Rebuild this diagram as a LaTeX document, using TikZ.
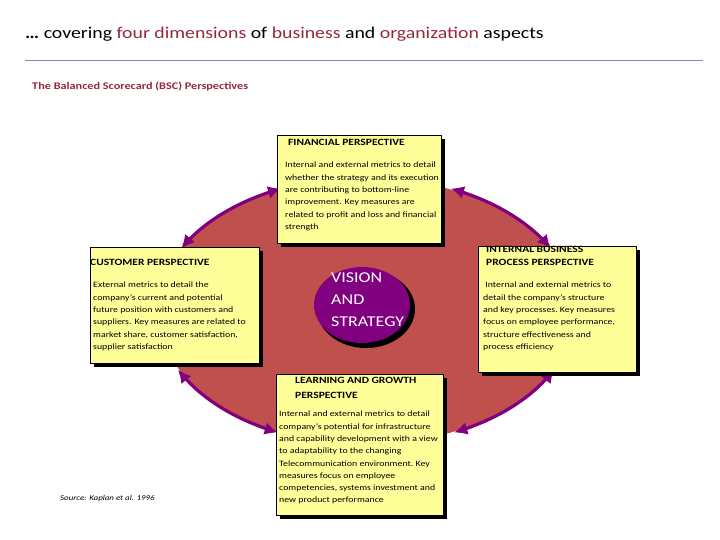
\documentclass[tikz,border=0pt]{standalone}
\usepackage{fontspec}
\setmainfont[FakeStretch=1.2]{Carlito}
\usetikzlibrary{arrows.meta}
\definecolor{mar}{RGB}{150,40,60}
\definecolor{purp}{RGB}{128,0,128}
\definecolor{ell}{RGB}{192,80,77}
\definecolor{boxy}{RGB}{255,255,153}
\definecolor{rule}{RGB}{120,140,170}
\tikzset{
 pbox/.style={draw=black,fill=boxy,line width=0.6pt,inner sep=0pt},
 shad/.style={fill=black},
 btxt/.style={anchor=north west,align=left,font=\fontsize{8.2}{12.3}\selectfont,inner sep=0pt},
 htxt/.style={anchor=north west,align=left,font=\fontsize{9.6}{14}\selectfont\bfseries,inner sep=0pt},
 arc/.style={purp,line width=3.2pt,{Latex[length=13pt,width=13pt]}-{Latex[length=13pt,width=13pt]}}
}
\newcommand{\pbx}[5]{% name, x1,y1,x2,y2
 \fill[shad] (#2+4,#3+4) rectangle (#4+4,#5+4);
 \draw[pbox] (#2,#3) rectangle (#4,#5);
 \coordinate (#1) at (#2,#3);}
\begin{document}
\begin{tikzpicture}[x=1pt,y=-1pt]
\useasboundingbox (0,0) rectangle (720,540);
\node[anchor=west,font=\fontsize{16.5}{18}\selectfont,inner sep=0pt] (title) at (25,34)
 {\textbf{…} covering \textcolor{mar}{four dimensions} of \textcolor{mar}{business} and \textcolor{mar}{organization} aspects};
\draw[rule,line width=0.6pt] (25,60) -- (703,60);
\node[anchor=west,font=\fontsize{10.2}{12}\selectfont\bfseries,text=mar,inner sep=0pt] (sub) at (32,87) {The Balanced Scorecard (BSC) Perspectives};
% big ellipse
\fill[ell] (366,311) ellipse [x radius=208, y radius=133];
% arcs
\draw[arc] plot[domain=-114:-152,samples=30] ({366+209*cos(\x)},{311+134*sin(\x)});
\draw[arc] plot[domain=-66:-28,samples=30] ({366+209*cos(\x)},{311+134*sin(\x)});
\draw[arc] plot[domain=154:115,samples=30] ({366+209*cos(\x)},{311+134*sin(\x)});
\draw[arc] plot[domain=26:65,samples=30] ({366+209*cos(\x)},{311+134*sin(\x)});
% boxes
\pbx{fin}{277}{135}{441}{243}
\node[htxt] (finh) at ([shift={(11,4)}]fin) {FINANCIAL PERSPECTIVE};
\node[btxt] (fint) at ([shift={(8,27)}]fin) {Internal and external metrics to detail\\whether the strategy and its execution\\are contributing to bottom-line\\improvement. Key measures are\\related to profit and loss and financial\\strength};
\pbx{cus}{90}{247}{259}{363}
\node[htxt] (cush) at ([shift={(0,12)}]cus) {CUSTOMER PERSPECTIVE};
\node[btxt] (cust) at ([shift={(3,35)}]cus) {External metrics to detail the\\company's current and potential\\future position with customers and\\suppliers. Key measures are related to\\market share, customer satisfaction,\\supplier satisfaction};
\pbx{int}{478}{246}{636}{372}
\node[htxt,font=\fontsize{9.6}{13.5}\selectfont\bfseries] (inth) at ([shift={(8,0)}]int) {INTERNAL BUSINESS\\PROCESS PERSPECTIVE};
\node[btxt] (intt) at ([shift={(5,36)}]int) {\ Internal and external metrics to\\detail the company's structure\\and key processes.\ Key measures\\focus on employee performance,\\structure effectiveness and\\process efficiency};
\pbx{lea}{276}{374}{443}{515}
\node[htxt,font=\fontsize{9.6}{15}\selectfont\bfseries] (leah) at ([shift={(19,3)}]lea) {LEARNING AND GROWTH\\PERSPECTIVE};
\node[btxt] (leat) at ([shift={(3,37)}]lea) {Internal and external metrics to detail\\company's potential for infrastructure\\and capability development with a view\\to adaptability to the changing\\Telecommunication environment.\ Key\\measures focus on employee\\competencies, systems investment and\\new product performance};
% vision
\fill[black] (366,309) ellipse [x radius=49, y radius=39];
\fill[purp] (362,305) ellipse [x radius=48, y radius=38];
\node[anchor=north west,align=left,text=white,font=\fontsize{15}{22}\selectfont,inner sep=0pt] (vis) at (331,273) {VISION\\AND\\STRATEGY};
\node[anchor=west,font=\fontsize{7.4}{8}\selectfont\itshape,inner sep=0pt] (src) at (60,499) {Source: Kaplan et al. 1996};
\end{tikzpicture}
\end{document}
